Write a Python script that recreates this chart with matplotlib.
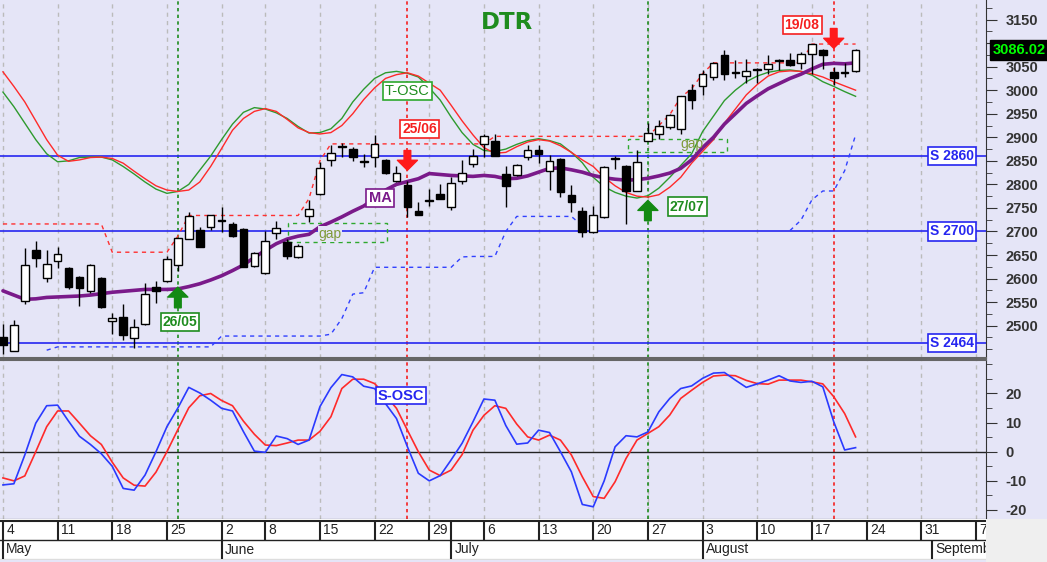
import matplotlib
matplotlib.use("Agg")
import matplotlib.pyplot as plt
import matplotlib.transforms as mtransforms
from matplotlib.patches import Rectangle
import numpy as np

plt.rcParams['font.family'] = ['Liberation Sans', 'DejaVu Sans']

nan = np.nan

# trading-day index 0 = 4 May ... 78 = 21 Aug
opens = [2475, 2446, 2553, 2661, 2601, 2637, 2622, 2603, 2574, 2602,
         2510, 2519, 2473, 2503, 2583, 2595, 2629, 2684, 2703, 2710,
         2725, 2715, 2705, 2626, 2612, 2696, 2677, 2645, 2732, 2779,
         2852, 2881, 2876, 2849, 2859, 2852, 2807, 2798, 2743, 2767,
         2779, 2752, 2808, 2844, 2885, 2893, 2822, 2819, 2859, 2872,
         2828, 2854, 2778, 2743, 2698, 2730, 2855, 2840, 2787, 2893,
         2908, 2922, 2918, 3000, 3008, 3028, 3074, 3037, 3030, 3043,
         3044, 3062, 3065, 3057, 3076, 3086, 3039, 3037, 3041]
highs = [2503, 2512, 2666, 2679, 2661, 2668, 2624, 2606, 2630, 2604,
         2528, 2547, 2514, 2590, 2595, 2648, 2687, 2741, 2709, 2735,
         2753, 2720, 2707, 2656, 2702, 2723, 2684, 2674, 2766, 2847,
         2883, 2888, 2879, 2865, 2904, 2853, 2840, 2807, 2762, 2791,
         2801, 2815, 2852, 2876, 2908, 2908, 2840, 2843, 2883, 2883,
         2862, 2856, 2798, 2751, 2755, 2840, 2861, 2842, 2872, 2930,
         2937, 2950, 2988, 3014, 3043, 3059, 3086, 3064, 3067, 3047,
         3074, 3067, 3078, 3081, 3099, 3088, 3050, 3057, 3087]
lows = [2440, 2446, 2547, 2625, 2592, 2623, 2578, 2542, 2570, 2538,
        2482, 2469, 2453, 2502, 2549, 2593, 2617, 2683, 2667, 2703,
        2698, 2688, 2624, 2625, 2610, 2685, 2642, 2644, 2720, 2777,
        2840, 2858, 2849, 2837, 2837, 2822, 2806, 2730, 2734, 2755,
        2768, 2746, 2801, 2837, 2858, 2860, 2752, 2818, 2851, 2845,
        2789, 2774, 2741, 2688, 2697, 2729, 2833, 2716, 2786, 2892,
        2897, 2918, 2908, 2961, 2989, 3021, 3021, 3025, 3015, 3015,
        3035, 3042, 3051, 3046, 3035, 3044, 3010, 3028, 3039]
closes = [2459, 2501, 2629, 2644, 2632, 2653, 2583, 2579, 2629, 2540,
          2517, 2480, 2497, 2567, 2573, 2641, 2686, 2732, 2668, 2734,
          2723, 2691, 2625, 2654, 2680, 2708, 2649, 2670, 2748, 2834,
          2866, 2880, 2859, 2847, 2886, 2824, 2824, 2753, 2736, 2765,
          2769, 2802, 2824, 2861, 2902, 2861, 2796, 2842, 2874, 2864,
          2849, 2783, 2762, 2698, 2734, 2836, 2853, 2787, 2847, 2909,
          2923, 2947, 2987, 2979, 3035, 3058, 3035, 3036, 3040, 3042,
          3055, 3063, 3053, 3076, 3098, 3074, 3025, 3039, 3086.02]

ma = [2574, 2565, 2556, 2557, 2560, 2561, 2562, 2563, 2565, 2568,
      2571, 2573, 2575, 2577, 2577, 2577, 2578, 2583, 2589, 2597,
      2606, 2617, 2629, 2645, 2660, 2674, 2684, 2690, 2694, 2710,
      2720, 2731, 2743, 2754, 2770, 2788, 2800, 2806, 2812, 2823,
      2821, 2819, 2818, 2817, 2819, 2817, 2812, 2813, 2818, 2826,
      2834, 2835, 2831, 2826, 2819, 2814, 2811, 2809, 2810, 2813,
      2818, 2824, 2834, 2852, 2878, 2900, 2928, 2950, 2972, 2988,
      3003, 3014, 3025, 3034, 3045, 3055, 3057, 3056, 3058]

tosc_fast = [2996, 2965, 2930, 2895, 2865, 2848, 2850, 2857, 2858, 2858,
             2852, 2838, 2822, 2805, 2790, 2781, 2785, 2800, 2830, 2860,
             2895, 2928, 2953, 2963, 2960, 2952, 2940, 2923, 2909, 2910,
             2918, 2940, 2975, 3002, 3025, 3037, 3040, 3036, 3028, 3005,
             2979, 2943, 2910, 2885, 2872, 2870, 2875, 2885, 2893, 2897,
             2893, 2886, 2868, 2846, 2815, 2795, 2783, 2775, 2771, 2776,
             2792, 2815, 2840, 2865, 2912, 2945, 2978, 3000, 3018, 3030,
             3038, 3042, 3043, 3040, 3032, 3018, 3008, 2997, 2987]
tosc_slow = [3039, 3008, 2975, 2935, 2895, 2862, 2849, 2852, 2857, 2858,
             2855, 2845, 2828, 2812, 2797, 2788, 2785, 2788, 2805, 2838,
             2876, 2915, 2940, 2955, 2961, 2955, 2938, 2920, 2910, 2907,
             2910, 2925, 2950, 2980, 3005, 3025, 3033, 3037, 3030, 3015,
             3000, 2968, 2935, 2905, 2878, 2866, 2868, 2880, 2890, 2895,
             2892, 2882, 2868, 2852, 2838, 2815, 2797, 2783, 2775, 2773,
             2778, 2794, 2815, 2845, 2870, 2895, 2930, 2960, 2990, 3012,
             3030, 3039, 3041, 3040, 3035, 3028, 3018, 3009, 3000]

resistance = [2716, 2716, 2716, 2716, 2716, 2716, 2716, 2716, 2716, 2716,
              2656, 2656, 2656, 2656, 2656, 2656, 2690, 2734, 2734, 2734,
              2734, 2734, 2734, 2734, 2734, 2734, 2734, 2734, 2770, 2850,
              2886, 2886, 2886, 2886, 2886, 2886, 2886, 2886, 2886, 2886,
              2886, 2886, 2886, 2886, 2886, 2902, 2902, 2902, 2902, 2902,
              2902, 2902, 2902, 2902, 2902, 2902, 2902, 2902, 2902, 2902,
              2925, 2948, 2985, 3003, 3035, 3058, 3058, 3058, 3058, 3058,
              3058, 3058, 3058, 3058, 3098, 3098, 3098, 3098, 3098]
support = [nan, nan, nan, nan, 2448, 2455, 2455, 2455, 2455, 2455,
           2455, 2455, 2455, 2455, 2455, 2455, 2455, 2455, 2455, 2455,
           2478, 2478, 2478, 2478, 2478, 2478, 2478, 2478, 2478, 2478,
           2482, 2515, 2567, 2570, 2624, 2624, 2624, 2624, 2624, 2624,
           2624, 2624, 2646, 2647, 2647, 2647, 2700, 2732, 2732, 2732,
           2732, 2732, 2732, 2712, nan, nan, nan, nan, nan, nan,
           nan, nan, nan, nan, nan, nan, nan, nan, nan, nan,
           nan, nan, 2702, 2724, 2767, 2786, 2786, 2829, 2905]

sosc_fast = [-11.4, -11.0, -1.1, 9.8, 15.8, 16.0, 10.5, 5.3, 2.5, -0.7,
             -5.0, -12.6, -13.2, -8.0, 0.0, 8.6, 15.0, 22.1, 20.2, 17.7,
             14.9, 14.0, 6.9, 0.2, -0.2, 5.4, 4.5, 2.5, 4.0, 15.5,
             22.0, 26.5, 25.7, 22.5, 21.7, 16.5, 11.4, 1.7, -7.4, -10.0,
             -8.2, -2.8, 2.9, 10.3, 18.1, 17.7, 9.0, 2.6, 3.0, 7.4,
             6.6, 0.0, -6.9, -18.1, -18.9, -10.0, 1.7, 5.5, 5.1, 6.8,
             13.7, 18.3, 21.7, 22.6, 25.2, 27.0, 27.2, 24.6, 22.1, 23.3,
             24.6, 26.1, 24.3, 23.8, 24.2, 22.3, 10.3, 0.6, 1.4]
sosc_slow = [-9.0, -10.0, -8.3, 0.0, 8.6, 14.0, 14.0, 9.8, 5.5, 2.5,
             -3.6, -9.0, -11.5, -11.8, -7.0, 0.0, 7.6, 15.1, 19.2, 20.0,
             17.6, 15.8, 10.5, 6.0, 2.3, 2.1, 3.0, 4.0, 4.0, 7.0,
             12.0, 21.7, 24.9, 24.9, 23.4, 19.4, 14.9, 7.4, 0.0, -6.3,
             -8.2, -6.3, -1.0, 7.4, 12.5, 15.8, 14.9, 9.5, 5.1, 4.0,
             5.7, 4.0, -1.1, -8.6, -15.4, -16.0, -10.3, -2.3, 4.0, 6.3,
             8.6, 12.6, 18.3, 21.1, 23.8, 26.0, 26.3, 26.1, 24.5, 23.4,
             23.2, 24.6, 24.6, 24.6, 24.0, 23.3, 18.9, 13.1, 5.1]

week_ticks = [0, 5, 10, 15, 20, 24, 29, 34, 39, 44, 49, 54, 59, 64, 69, 74, 79, 84, 89]
week_labels = ['4', '11', '18', '25', '2', '8', '15', '22', '29', '6', '13', '20',
               '27', '3', '10', '17', '24', '31', '7']
month_starts = [0, 20, 41, 64, 85]
month_names = ['May', 'June', 'July', 'August', 'September']

support_levels = [2860, 2700, 2464]
signals = [(16, '26/05', 'buy'), (37, '25/06', 'sell'), (59, '27/07', 'buy'), (76, '19/08', 'sell')]
gaps = [(26.05, 35.1, 2677, 2719), (57.2, 66.2, 2868, 2897)]
last_price = 3086.02

BG = '#E5E5F7'
GREEN = '#1E8C1E'
RED = '#F52020'
BLUE = '#2626F0'
PURPLE = '#7A1A8A'

W, H = 1047, 562
fig = plt.figure(figsize=(W / 100, H / 100), dpi=100)
fig.patch.set_facecolor(BG)
fig.add_artist(Rectangle((986 / W, 0), 1 - 986 / W, 43 / H, transform=fig.transFigure,
                         facecolor='#EFEFEF', edgecolor='none'))

ax = fig.add_axes([0, 1 - 358 / H, 986 / W, 358 / H])
ax2 = fig.add_axes([0, 1 - 519 / H, 986 / W, 159 / H], sharex=ax)
axd = fig.add_axes([0, 2 / H, 986 / W, 41 / H], sharex=ax)

x = np.arange(len(closes))
XL = (-0.27, 89.93)

for a in (ax, ax2):
    a.set_facecolor(BG)
    for t in week_ticks:
        a.axvline(t, color='#BBBBBB', lw=1, ls=(0, (3, 3)), zorder=0.5)
    for i, _, kind in signals:
        a.axvline(i, color=GREEN if kind == 'buy' else RED, lw=1.2, ls=(0, (2, 2)), zorder=1)
    a.spines['left'].set_visible(False)
    a.spines['right'].set_color('#333333')
    a.tick_params(axis='x', bottom=False, labelbottom=False)
    a.yaxis.tick_right()

# ---- price panel
ax.set_xlim(*XL)
ax.set_ylim(2431.4, 3191.5)
ax.spines['top'].set_visible(False)
ax.spines['bottom'].set_color('#666666')
ax.spines['bottom'].set_linewidth(1.5)

for lvl in support_levels:
    ax.axhline(lvl, color=BLUE, lw=1.2, zorder=1.2)
    ax.text(86.8, lvl, 'S %d' % lvl, ha='center', va='center', color=BLUE, fontsize=10,
            fontweight='bold', zorder=7,
            bbox=dict(boxstyle='square,pad=0.15', fc='white', ec=BLUE, lw=1.2))

for x0, x1, y0, y1 in gaps:
    ax.add_patch(Rectangle((x0, y0), x1 - x0, y1 - y0, fill=False, ec='#2EA82E',
                           lw=1, ls=(0, (3, 3)), zorder=1.5))
ax.text(29.9, 2695, 'gap', ha='center', va='center', color='#7F9B3A', fontsize=10, zorder=5,
        bbox=dict(boxstyle='square,pad=0.05', fc=BG, ec='none'))
ax.text(63.0, 2886, 'gap', ha='center', va='center', color='#7F9B3A', fontsize=10, zorder=5)

ax.plot(x, tosc_fast, color='#2E9A2E', lw=1, zorder=2)
ax.plot(x, tosc_slow, color='#FF2A2A', lw=1, zorder=2)
ax.plot(x, resistance, color='#FF3030', lw=1, ls=(0, (3, 3)), zorder=2)
ax.plot(x, support, color='#3040FF', lw=1, ls=(0, (3, 3)), zorder=2)
ax.plot(x, ma, color=PURPLE, lw=2.6, zorder=3, solid_capstyle='round')

for i in range(len(closes)):
    o, h, l, c = opens[i], highs[i], lows[i], closes[i]
    ax.vlines(i, l, h, color='black', lw=1, zorder=3.9)
    lo = min(o, c)
    hgt = max(abs(c - o), 2)
    ax.add_patch(Rectangle((i - 0.35, lo), 0.7, hgt, fc='white' if c >= o else 'black',
                           ec='black', lw=1, zorder=4))

# signals: arrows and date boxes
for i, lab, kind in signals:
    if kind == 'buy':
        col = '#138A13'
        tail, tip = {16: (2538, 2582), 59: (2723, 2766)}[i]
    else:
        col = '#FF1A1A'
        tail, tip = {37: (2872, 2830), 76: (3131, 3089)}[i]
    ax.annotate('', xy=(i, tip), xytext=(i, tail), zorder=6,
                arrowprops=dict(arrowstyle='simple,head_length=0.45,head_width=0.9,tail_width=0.3',
                                fc=col, ec=col, mutation_scale=16, shrinkA=0, shrinkB=0))
label_pos = {'26/05': (16.2, 2508), '25/06': (38.1, 2917), '27/07': (62.6, 2753), '19/08': (73.1, 3138)}
for i, lab, kind in signals:
    lx, ly = label_pos[lab]
    col = GREEN if kind == 'buy' else RED
    ax.text(lx, ly, lab, ha='center', va='center', color=col, fontsize=10, fontweight='bold',
            zorder=7, bbox=dict(boxstyle='square,pad=0.15', fc='white', ec=col, lw=1.2))

ax.text(37.0, 2998, 'T-OSC', ha='center', va='center', color=GREEN, fontsize=10.5, zorder=7,
        bbox=dict(boxstyle='square,pad=0.12', fc='white', ec='#2EA82E', lw=1.2))
ax.text(34.5, 2771, 'MA', ha='center', va='center', color=PURPLE, fontsize=10.5,
        fontweight='bold', zorder=7,
        bbox=dict(boxstyle='square,pad=0.15', fc='white', ec=PURPLE, lw=1.2))
ax.text(0.514, 0.938, 'DTR', transform=ax.transAxes, ha='center', va='center',
        color=GREEN, fontsize=16.5, fontweight='bold', family='DejaVu Sans', zorder=7)

# 3100 sits under the last-price box, as in the source chart
pticks = np.arange(2500, 3151, 50)
ax.set_yticks(pticks, labels=['' if v == 3100 else str(v) for v in pticks],
              fontweight='bold', fontsize=10.5, color='#333333')
ax.set_yticks(np.arange(2450, 3191, 25), minor=True)
ax.tick_params(axis='y', which='major', length=8, pad=6, color='#333333')
ax.tick_params(axis='y', which='minor', length=4, color='#333333')
trans = mtransforms.blended_transform_factory(ax.transAxes, ax.transData)
ax.text(1 + 9 / 986, 3200, '3200', transform=trans, ha='left', va='center', fontsize=10.5,
        fontweight='bold', color='#333333', clip_on=False)
ax.text(1 + 7 / 986, last_price, '%.2f' % last_price, transform=trans, ha='left', va='center',
        fontsize=10.5, fontweight='bold', color='#00FF00', clip_on=False, zorder=10,
        bbox=dict(boxstyle='square,pad=0.2', fc='black', ec='black'))

# ---- oscillator panel
ax2.set_ylim(-23.1, 31.5)
ax2.spines['top'].set_color('#666666')
ax2.spines['top'].set_linewidth(1.5)
ax2.spines['bottom'].set_color('black')
ax2.axhline(0, color='#222222', lw=1, zorder=1)
ax2.plot(x, sosc_slow, color='#FF2A2A', lw=1.2, zorder=2)
ax2.plot(x, sosc_fast, color='#2A3AFF', lw=1.2, zorder=2)
ax2.text(36.4, 19.3, 'S-OSC', ha='center', va='center', color=BLUE, fontsize=10.5,
         fontweight='bold', zorder=7,
         bbox=dict(boxstyle='square,pad=0.12', fc='white', ec=BLUE, lw=1.2))
oticks = [-20, -10, 0, 10, 20]
ax2.set_yticks(oticks, labels=[str(v) for v in oticks], fontweight='bold', fontsize=10.5,
               color='#333333')
ax2.set_yticks([-15, -5, 5, 15, 25, 30], minor=True)
ax2.tick_params(axis='y', which='major', length=8, pad=6, color='#333333')
ax2.tick_params(axis='y', which='minor', length=4, color='#333333')

# ---- date axis
axd.set_facecolor('white')
axd.set_ylim(41, 0)
for s in axd.spines.values():
    s.set_visible(False)
axd.set_yticks([])
axd.tick_params(axis='x', bottom=False, labelbottom=False)
axd.axhline(1.5, color='#222222', lw=1.5)
axd.axhline(21, color='#222222', lw=1)
axd.axhline(39.5, color='#DDDDDD', lw=1)
for t, lab in zip(week_ticks, week_labels):
    axd.vlines(t, 1.5, 21, color='#222222', lw=1.5)
    axd.text(t + 0.3, 11.5, lab, ha='left', va='center', fontsize=10, color='#222222',
             clip_on=True)
for m, name in zip(month_starts, month_names):
    axd.vlines(m, 21, 39.5, color='#222222', lw=1.5)
    axd.text(m + 0.3, 30.5, name, ha='left', va='center', fontsize=10, color='#222222',
             clip_on=True)
axd.vlines(41, 1.5, 21, color='#222222', lw=1.5)

fig.savefig('out.png', dpi=100, facecolor=fig.get_facecolor())
